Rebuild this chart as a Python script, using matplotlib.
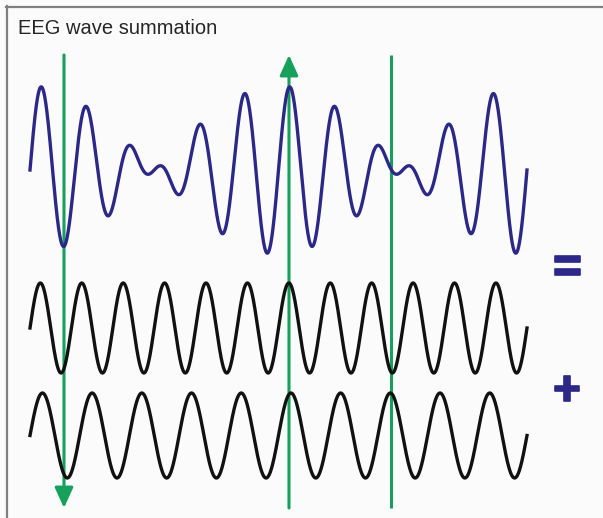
import numpy as np
import matplotlib
matplotlib.use("Agg")
import matplotlib.pyplot as plt
from matplotlib.lines import Line2D
import matplotlib.patheffects as pe

# ---- data ----
title = "EEG wave summation"
wave_cycles = [12, 10]          # full cycles across the drawing window (upper black, lower black)
wave_amplitudes = [1.0, 1.0]    # relative amplitudes of the two component waves
marker_t = [0.0684, 0.5211, 0.7257]   # positions of the green markers (fraction of window)
marker_arrows = ["down", "up", "none"]
operators = ["=", "+"]

# ---- styling / layout ----
W, H = 603, 518
BG = "#fcfbfc"
BLUE = "#2b2888"
BLACK = "#111111"
GREEN = "#17a05c"
X0, XW = 30, 497               # pixel start / width of the waves

fig = plt.figure(figsize=(W / 100, H / 100), dpi=100, facecolor=BG)
ax = fig.add_axes([0, 0, 1, 1])
ax.set_facecolor(BG)
ax.set_xlim(-X0 / XW, (W - X0) / XW)
ax.set_ylim(H, 0)
ax.axis("off")

t = np.linspace(0, 1, 4000)
w1 = wave_amplitudes[0] * np.sin(2 * np.pi * wave_cycles[0] * t)
w2 = wave_amplitudes[1] * np.sin(2 * np.pi * wave_cycles[1] * t)
total = w1 + w2

# green markers
y_top, y_bot = 55, 508
for mt, kind in zip(marker_t, marker_arrows):
    if kind == "none":
        ax.plot([mt, mt], [y_top, y_bot], color=GREEN, lw=2.2, zorder=2,
                solid_capstyle="butt")
    else:
        tip, tail = (y_bot, y_top) if kind == "down" else (y_top, y_bot)
        ax.annotate("", xy=(mt, tip), xytext=(mt, tail),
                    arrowprops=dict(arrowstyle="-|>,head_length=0.62,head_width=0.28",
                                    color=GREEN, lw=2.2, mutation_scale=20,
                                    shrinkA=0, shrinkB=0),
                    zorder=2)

ax.plot(t, 170 - 42 * total, color=BLUE, lw=2.4, zorder=3)
ax.plot(t, 328 - 45 * w1, color=BLACK, lw=2.4, zorder=3)
ax.plot(t, 435.5 - 42.5 * w2, color=BLACK, lw=2.4, zorder=3)

# operators
op_pos = [(567.5, 269), (567, 392)]
for op, (px, py) in zip(operators, op_pos):
    ax.text((px - X0) / XW, py, op, color=BLUE, fontsize=35, fontweight="bold",
            family="Liberation Sans", ha="center", va="center",
            path_effects=[pe.withStroke(linewidth=1.2, foreground=BLUE)])

# title
fig.text(18 / W, 1 - 34 / H, title, fontsize=14.5, family="Liberation Sans",
         color="#262626", va="baseline", ha="left")

# frame (top and left only)
fig.add_artist(Line2D([6.5 / W, 6.5 / W], [0, 1 - 6 / H], color="#808080", lw=1.6,
                      transform=fig.transFigure))
fig.add_artist(Line2D([6 / W, 1], [1 - 6.5 / H, 1 - 6.5 / H], color="#808080", lw=1.6,
                      transform=fig.transFigure))

fig.savefig("out.png", dpi=100, facecolor=BG)
